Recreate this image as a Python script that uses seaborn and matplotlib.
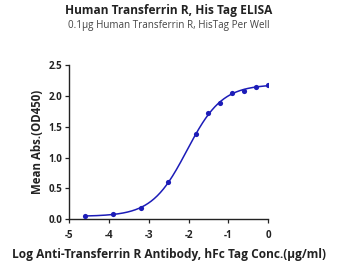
import numpy as np
import pandas as pd
import matplotlib
matplotlib.use("Agg")
import matplotlib.pyplot as plt
import seaborn as sns

# Data
log_conc = [-4.602, -3.903, -3.204, -2.505, -1.806, -1.505, -1.204, -0.903, -0.602, -0.301, 0.0]
mean_abs = [0.053, 0.080, 0.190, 0.600, 1.380, 1.730, 1.880, 2.040, 2.080, 2.150, 2.180]
x_ticks = [-5, -4, -3, -2, -1, 0]
y_ticks = [0.0, 0.5, 1.0, 1.5, 2.0, 2.5]

title = "Human Transferrin R, His Tag ELISA"
subtitle = "0.1\u03bcg Human Transferrin R, HisTag Per Well"
xlabel = "Log Anti-Transferrin R Antibody, hFc Tag Conc.(\u03bcg/ml)"
ylabel = "Mean Abs.(OD450)"

color = "#1c1cb8"

# 4PL fit of the data (Gauss-Newton) for the smooth curve
x = np.array(log_conc)
y = np.array(mean_abs)

def f4(p, xx):
    b, t, c, h = p
    return b + (t - b) / (1 + 10 ** ((c - xx) * h))

p = np.array([0.05, 2.2, -2.0, 1.2])
for _ in range(200):
    r = y - f4(p, x)
    J = np.zeros((len(x), 4))
    eps = 1e-6
    for k in range(4):
        dp = np.zeros(4); dp[k] = eps
        J[:, k] = (f4(p + dp, x) - f4(p - dp, x)) / (2 * eps)
    step, *_ = np.linalg.lstsq(J.T @ J + 1e-3 * np.eye(4), J.T @ r, rcond=None)
    p = p + step
xs = np.linspace(x.min(), x.max(), 300)
curve = pd.DataFrame({"x": xs, "y": f4(p, xs)})
pts = pd.DataFrame({"x": x, "y": y})

sns.set_style("ticks")
plt.rcParams["font.family"] = ["Open Sans", "DejaVu Sans"]

fig = plt.figure(figsize=(3.49, 2.65), dpi=100)
ax = fig.add_axes([0.1986, 0.1725, 0.768 - 0.1986, 0.7547 - 0.1725])

sns.lineplot(data=curve, x="x", y="y", ax=ax, color=color, linewidth=1.1)
sns.scatterplot(data=pts, x="x", y="y", ax=ax, color=color, s=14, edgecolor=color, linewidth=0, zorder=3)

ax.set_xlim(-5, 0)
ax.set_ylim(0, 2.5)
ax.set_xticks(x_ticks)
ax.set_xticklabels([str(v) for v in x_ticks])
ax.set_yticks(y_ticks)
ax.set_yticklabels([f"{v:.1f}" for v in y_ticks])
for lbl in ax.get_xticklabels() + ax.get_yticklabels():
    lbl.set_fontweight("bold")
    lbl.set_fontsize(7)
    lbl.set_color("#222222")
ax.tick_params(axis="both", length=3, width=0.9, color="#222222", pad=2)
ax.tick_params(axis="x", pad=5)
for s in ["left", "bottom"]:
    ax.spines[s].set_linewidth(1.0)
    ax.spines[s].set_color("#222222")
sns.despine(ax=ax)

ax.set_xlabel(xlabel, fontsize=8.6, fontweight="bold", color="#222222", labelpad=5)
ax.set_ylabel(ylabel, fontsize=8.3, fontweight="bold", color="#222222", labelpad=3)

fig.text(0.484, 0.960, title, ha="center", va="center", fontsize=8.6, fontweight="bold", color="#222222")
fig.text(0.484, 0.902, subtitle, ha="center", va="center", fontsize=7.1, color="#444444")

fig.savefig("out.png", dpi=100)
